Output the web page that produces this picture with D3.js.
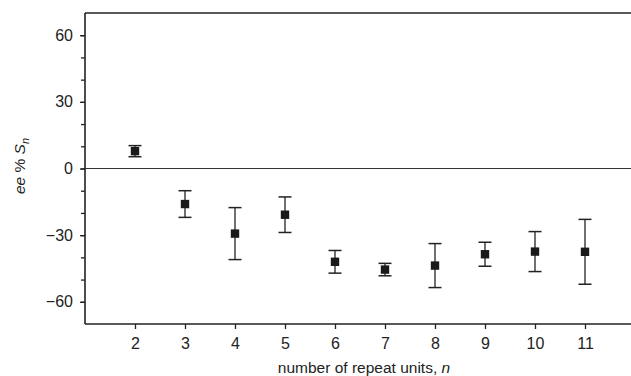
<!DOCTYPE html>
<html>
<head>
<meta charset="utf-8">
<script src="https://cdn.jsdelivr.net/npm/d3@7"></script>
<style>
  body { margin: 0; background: #fff; }
  svg { display: block; font-family: "Liberation Sans", Arial, sans-serif; }
  .tick text { fill: #222; font-size: 16px; }
</style>
</head>
<body>
<script>
// Data
var repeatUnits = [2, 3, 4, 5, 6, 7, 8, 9, 10, 11];
var eeValues = [7.8, -16, -29.3, -20.8, -42, -45.5, -43.7, -38.6, -37.4, -37.5];
var eeErrors = [2.5, 6, 11.7, 8, 5.1, 2.8, 9.9, 5.4, 9, 14.6];
var yLabelTicks = [-60, -30, 0, 30, 60];
var yMinorTicks = [-60, -50, -40, -30, -20, -10, 0, 10, 20, 30, 40, 50, 60];

var W = 631, H = 376;
var plotLeft = 85, plotRight = 635, plotTop = 13, plotBottom = 324;

var svg = d3.select("body").append("svg")
    .attr("width", W)
    .attr("height", H);

var x = d3.scaleLinear().domain([1, 12]).range([plotLeft, plotRight]);
var y = d3.scaleLinear().domain([-70, 70]).range([plotBottom, plotTop]);

// minor y ticks
svg.append("g")
    .attr("transform", "translate(" + plotLeft + ",0)")
    .call(d3.axisLeft(y).tickValues(yMinorTicks).tickSize(4).tickFormat(""))
    .call(function(g) { g.select(".domain").remove(); })
    .selectAll("line").attr("stroke", "#222").attr("stroke-width", 1.3);

// labelled y ticks
svg.append("g")
    .attr("transform", "translate(" + plotLeft + ",0)")
    .call(d3.axisLeft(y).tickValues(yLabelTicks).tickSize(5).tickPadding(7)
        .tickFormat(function(d) { return d < 0 ? "\u2212" + Math.abs(d) : d; }))
    .call(function(g) { g.select(".domain").remove(); })
    .selectAll("line").attr("stroke", "#222").attr("stroke-width", 1.3);

// x ticks
svg.append("g")
    .attr("transform", "translate(0," + plotBottom + ")")
    .call(d3.axisBottom(x).tickValues(repeatUnits).tickSize(5).tickPadding(9).tickFormat(d3.format("d")))
    .call(function(g) { g.select(".domain").remove(); })
    .selectAll("line").attr("stroke", "#222").attr("stroke-width", 1.3);

// frame: left axis, bottom axis, top line
svg.append("line")
    .attr("x1", plotLeft).attr("x2", plotLeft).attr("y1", plotTop).attr("y2", plotBottom)
    .attr("stroke", "#222").attr("stroke-width", 1.6);
svg.append("line")
    .attr("x1", plotLeft).attr("x2", W).attr("y1", plotBottom).attr("y2", plotBottom)
    .attr("stroke", "#222").attr("stroke-width", 1.6);
svg.append("line")
    .attr("x1", plotLeft).attr("x2", W).attr("y1", plotTop).attr("y2", plotTop)
    .attr("stroke", "#222").attr("stroke-width", 1.6);

// zero line
svg.append("line")
    .attr("x1", plotLeft).attr("x2", W).attr("y1", y(0)).attr("y2", y(0))
    .attr("stroke", "#333").attr("stroke-width", 1.1);

// error bars
var pts = svg.append("g").selectAll("g")
    .data(repeatUnits)
    .enter().append("g");

pts.append("line")
    .attr("x1", function(d) { return x(d); })
    .attr("x2", function(d) { return x(d); })
    .attr("y1", function(d, i) { return y(eeValues[i] + eeErrors[i]); })
    .attr("y2", function(d, i) { return y(eeValues[i] - eeErrors[i]); })
    .attr("stroke", "#222").attr("stroke-width", 1.3);

[1, -1].forEach(function(s) {
    pts.append("line")
        .attr("x1", function(d) { return x(d) - 6.5; })
        .attr("x2", function(d) { return x(d) + 6.5; })
        .attr("y1", function(d, i) { return y(eeValues[i] + s * eeErrors[i]); })
        .attr("y2", function(d, i) { return y(eeValues[i] + s * eeErrors[i]); })
        .attr("stroke", "#222").attr("stroke-width", 1.5);
});

pts.append("rect")
    .attr("x", function(d) { return x(d) - 4.2; })
    .attr("y", function(d, i) { return y(eeValues[i]) - 4.2; })
    .attr("width", 8.4)
    .attr("height", 8.4)
    .attr("fill", "#1a1a1a");

// axis titles
var xt = svg.append("text")
    .attr("x", 364).attr("y", 373)
    .attr("text-anchor", "middle")
    .attr("fill", "#222")
    .style("font-size", "15.5px");
xt.append("tspan").text("number of repeat units, ");
xt.append("tspan").style("font-style", "italic").text("n");

var yt = svg.append("text")
    .attr("transform", "translate(25,166) rotate(-90)")
    .attr("text-anchor", "middle")
    .attr("fill", "#222")
    .style("font-size", "15.5px");
yt.append("tspan").style("font-style", "italic").text("ee");
yt.append("tspan").text(" % ");
yt.append("tspan").style("font-style", "italic").text("S");
yt.append("tspan").style("font-style", "italic").style("font-size", "11px").attr("dy", 4).text("n");
</script>
</body>
</html>
